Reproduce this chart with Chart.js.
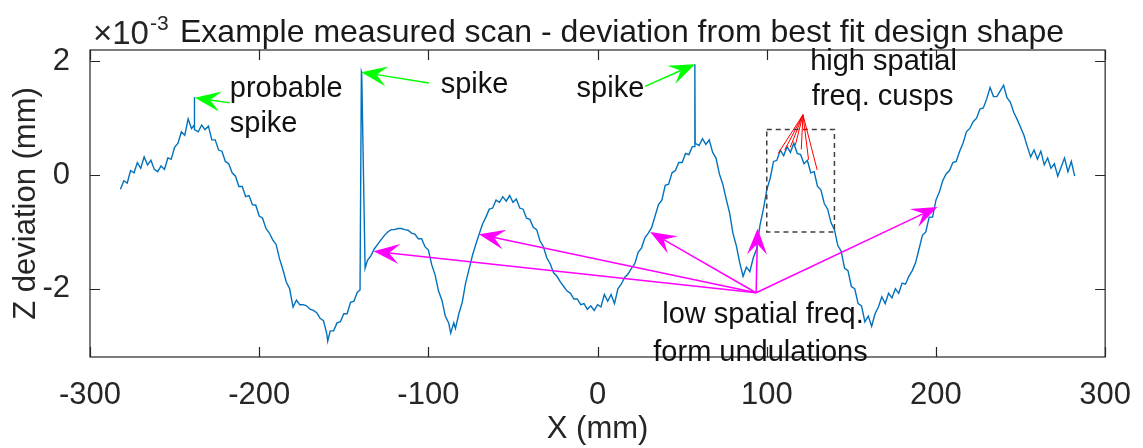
<!DOCTYPE html>
<html>
<head>
<meta charset="utf-8">
<script src="https://cdn.jsdelivr.net/npm/chart.js@4"></script>
<style>
html, body { margin: 0; padding: 0; background: #fff; }
#wrap { width: 1143px; height: 448px; position: relative; }
</style>
</head>
<body>
<div id="wrap"><canvas id="grafico"></canvas></div>
<script>
// X (mm) and Z deviation (x 10^-3 mm)
var xVals = [
  -282, -280, -278, -276, -274, -272, -270, -268, -266, -264,
  -262, -260, -258, -256, -254, -252, -250, -248, -246, -244,
  -242, -240, -238.4, -238.3, -238.2, -236, -234, -232, -230, -228,
  -226, -224, -222, -220, -218, -216, -214, -212, -210, -208,
  -206, -204, -202, -200, -198, -196, -194, -192, -190, -188,
  -186, -184, -182, -180, -178, -176, -174, -172, -170, -168,
  -166, -164, -162, -160, -159.5, -158, -156, -154, -152, -150,
  -148, -146, -144, -142, -140.4, -139.6, -139.4, -137.4, -136, -134,
  -132, -130, -128, -126, -124, -122, -120, -118, -116, -114,
  -112, -110, -108, -106, -104, -102, -100, -98, -96, -94,
  -92, -90, -88, -86.8, -85, -84, -82, -80, -78, -76,
  -74, -72, -70, -68, -66, -64, -62, -60, -58, -56,
  -54, -52, -50, -48, -46, -44, -42, -40, -38, -36,
  -34, -32, -30, -28, -26, -24, -22, -20, -18, -16,
  -14, -12, -10, -8, -6, -4, -2, 0, 2, 4,
  6, 8, 10, 12, 14, 16, 18, 20, 22, 24,
  26, 28, 30, 32, 34, 36, 38, 40, 42, 44,
  46, 48, 50, 52, 54, 56, 57.3, 57.5, 57.7, 60,
  62, 64, 66, 68, 70, 72, 74, 76, 78, 80,
  82, 84, 86, 88, 90, 92, 94, 96, 98, 100,
  102, 104, 106, 108, 110, 112, 114, 116, 118, 120,
  122, 124, 126, 128, 130, 132, 134, 136, 138, 140,
  142, 144, 146, 148, 150, 152, 154, 156, 158, 160,
  162, 164, 166, 168, 170, 172, 174, 176, 178, 180,
  182, 184, 186, 188, 190, 192, 194, 196, 198, 200,
  202, 204, 206, 208, 210, 212, 214, 216, 218, 220,
  222, 224, 226, 228, 230, 232, 234, 236, 238, 240,
  242, 244, 246, 248, 250, 252, 254, 256, 258, 260,
  262, 264, 266, 268, 270, 272, 274, 276, 278, 280,
  282
];
var zVals = [
  -0.25, -0.10, -0.14, 0.08, 0.04, 0.22, 0.12, 0.32, 0.18, 0.26,
  0.10, 0.06, 0.16, 0.10, 0.30, 0.28, 0.49, 0.56, 0.76, 0.70,
  0.99, 0.82, 0.88, 1.37, 0.80, 0.76, 0.88, 0.80, 0.86, 0.62,
  0.62, 0.44, 0.42, 0.24, 0.20, 0.04, -0.02, -0.20, -0.20, -0.38,
  -0.36, -0.52, -0.53, -0.72, -0.76, -0.94, -1.02, -1.14, -1.22, -1.47,
  -1.66, -1.88, -2.00, -2.32, -2.20, -2.28, -2.28, -2.30, -2.36, -2.38,
  -2.42, -2.52, -2.56, -2.80, -2.92, -2.74, -2.74, -2.60, -2.58, -2.44,
  -2.44, -2.24, -2.22, -2.06, -2.02, 1.82, 1.80, -1.64, -1.50, -1.42,
  -1.30, -1.22, -1.14, -1.06, -1.00, -0.96, -0.96, -0.94, -0.94, -0.96,
  -0.97, -1.02, -1.04, -1.12, -1.12, -1.26, -1.32, -1.58, -1.76, -2.04,
  -2.20, -2.48, -2.60, -2.78, -2.60, -2.70, -2.44, -2.24, -1.90, -1.66,
  -1.42, -1.22, -1.04, -0.86, -0.74, -0.60, -0.58, -0.44, -0.48, -0.38,
  -0.46, -0.36, -0.48, -0.42, -0.58, -0.60, -0.76, -0.78, -0.92, -0.96,
  -1.16, -1.26, -1.46, -1.56, -1.72, -1.78, -1.88, -1.96, -2.04, -2.08,
  -2.18, -2.18, -2.28, -2.26, -2.36, -2.30, -2.38, -2.28, -2.32, -2.10,
  -2.22, -2.10, -2.26, -2.00, -1.92, -1.80, -1.74, -1.64, -1.56, -1.36,
  -1.28, -1.10, -1.02, -0.92, -0.72, -0.52, -0.44, -0.18, -0.16, 0.04,
  0.08, 0.22, 0.22, 0.38, 0.36, 0.50, 0.50, 1.95, 0.56, 0.52,
  0.64, 0.54, 0.62, 0.40, 0.30, 0.02, -0.16, -0.42, -0.66, -1.02,
  -1.24, -1.54, -1.78, -1.62, -1.70, -1.46, -1.30, -0.88, -0.60, -0.26,
  -0.06, 0.24, 0.26, 0.44, 0.34, 0.50, 0.40, 0.56, 0.38, 0.36,
  0.20, 0.26, 0.04, 0.06, -0.20, -0.26, -0.50, -0.60, -0.84, -0.96,
  -1.24, -1.34, -1.64, -1.68, -1.96, -2.00, -2.26, -2.30, -2.58, -2.48,
  -2.66, -2.44, -2.32, -2.14, -2.26, -2.08, -2.16, -2.00, -2.08, -1.90,
  -1.92, -1.78, -1.68, -1.54, -1.30, -1.06, -1.00, -0.74, -0.74, -0.44,
  -0.30, -0.10, 0.02, 0.08, 0.22, 0.24, 0.42, 0.56, 0.76, 0.82,
  0.94, 1.00, 1.16, 1.18, 1.34, 1.54, 1.38, 1.38, 1.48, 1.58,
  1.36, 1.28, 1.10, 0.98, 0.84, 0.70, 0.50, 0.32, 0.44, 0.28,
  0.42, 0.18, 0.30, 0.12, 0.20, -0.02, 0.14, 0.30, 0.06, 0.24,
  -0.02
];
var xTicks = [-300, -200, -100, 0, 100, 200, 300];
var yTicks = [-2, 0, 2];

// annotation anchors in data units [x, z]
var spikeArrows = [
  [[-217.4, 1.27], [-238.1, 1.36]],
  [[-99.6, 1.62], [-139.7, 1.81]],
  [[28.1, 1.56], [57.6, 1.95]]
];
var lowFreqFrom = [93.7, -2.07];
var lowFreqTips = [[-132.4, -1.34], [-70.1, -1.04], [31.1, -1.0], [94.6, -0.94], [200.9, -0.56]];
var cuspFrom = [121.4, 1.06];
var cuspTips = [[106.7, 0.38], [110.6, 0.44], [113.9, 0.49], [116.9, 0.53], [120.4, 0.45], [124.7, 0.27], [129.8, 0.09]];
var cuspBox = [100, 140, -1.0, 0.8];
var notas = [
  ['probable', -217.4, 1.38, 'left'],
  ['spike', -217.4, 0.75, 'left'],
  ['spike', -92.7, 1.45, 'left'],
  ['spike', -12.4, 1.38, 'left'],
  ['high spatial', 169, 1.85, 'center'],
  ['freq. cusps', 168.5, 1.24, 'center'],
  ['low spatial freq.', 97.8, -2.61, 'center'],
  ['form undulations', 96.3, -3.27, 'center']
];

var fonte = '"Liberation Sans", Arial, Helvetica, sans-serif';

function seta(ctx, x0, y0, x1, y1, cor) {
    var a = Math.atan2(y1 - y0, x1 - x0);
    var c = Math.cos(a), s = Math.sin(a);
    var len = 26, half = 10;
    ctx.strokeStyle = cor;
    ctx.fillStyle = cor;
    ctx.lineWidth = 1.5;
    ctx.beginPath();
    ctx.moveTo(x0, y0);
    ctx.lineTo(x1 - c * len * 0.6, y1 - s * len * 0.6);
    ctx.stroke();
    ctx.beginPath();
    ctx.moveTo(x1, y1);
    ctx.lineTo(x1 - c * len - s * half, y1 - s * len + c * half);
    ctx.lineTo(x1 - c * len * 0.6, y1 - s * len * 0.6);
    ctx.lineTo(x1 - c * len + s * half, y1 - s * len - c * half);
    ctx.closePath();
    ctx.fill();
}

var anotacoes = {
    id: 'anotacoes',
    afterDatasetsDraw: function(chart) {
        var ctx = chart.ctx, a = chart.chartArea;
        var sx = chart.scales.x, sy = chart.scales.y;
        var px = function(v) { return sx.getPixelForValue(v); };
        var py = function(v) { return sy.getPixelForValue(v); };
        ctx.save();

        // axes box with inward ticks
        ctx.strokeStyle = '#262626';
        ctx.lineWidth = 1.2;
        ctx.strokeRect(a.left, a.top, a.right - a.left, a.bottom - a.top);
        ctx.beginPath();
        xTicks.forEach(function(v) {
            var x = Math.round(px(v)) + 0.5;
            ctx.moveTo(x, a.bottom); ctx.lineTo(x, a.bottom - 10);
            ctx.moveTo(x, a.top); ctx.lineTo(x, a.top + 10);
        });
        yTicks.forEach(function(v) {
            var y = Math.round(py(v)) + 0.5;
            ctx.moveTo(a.left, y); ctx.lineTo(a.left + 10, y);
            ctx.moveTo(a.right, y); ctx.lineTo(a.right - 10, y);
        });
        ctx.stroke();

        // dashed box round the cusps
        ctx.setLineDash([5, 4]);
        ctx.strokeStyle = '#404040';
        ctx.lineWidth = 1.5;
        ctx.strokeRect(px(cuspBox[0]), py(cuspBox[3]), px(cuspBox[1]) - px(cuspBox[0]), py(cuspBox[2]) - py(cuspBox[3]));
        ctx.setLineDash([]);

        // red lines to the cusps
        ctx.strokeStyle = '#ff0000';
        ctx.lineWidth = 1;
        ctx.beginPath();
        cuspTips.forEach(function(t) {
            ctx.moveTo(px(cuspFrom[0]), py(cuspFrom[1]));
            ctx.lineTo(px(t[0]), py(t[1]));
        });
        ctx.stroke();

        // magenta arrows
        lowFreqTips.forEach(function(t) {
            seta(ctx, px(lowFreqFrom[0]), py(lowFreqFrom[1]), px(t[0]), py(t[1]), '#ff00ff');
        });

        // green arrows
        spikeArrows.forEach(function(s) {
            seta(ctx, px(s[0][0]), py(s[0][1]), px(s[1][0]), py(s[1][1]), '#00ff00');
        });

        // texts
        ctx.fillStyle = '#111';
        ctx.textBaseline = 'alphabetic';
        ctx.font = '29px ' + fonte;
        notas.forEach(function(n) {
            ctx.textAlign = n[3];
            ctx.fillText(n[0], px(n[1]), py(n[2]));
        });

        // title and exponent
        ctx.fillStyle = '#1a1a1a';
        ctx.textAlign = 'center';
        ctx.font = '32px ' + fonte;
        ctx.fillText('Example measured scan - deviation from best fit design shape', 622, 42);
        ctx.textAlign = 'left';
        ctx.fillStyle = '#262626';
        ctx.font = '33px ' + fonte;
        ctx.fillText('\u00d710', 93, 44);
        ctx.font = '21px ' + fonte;
        ctx.fillText('-3', 150, 30);

        ctx.restore();
    }
};

var pontos = xVals.map(function(x, i) { return {x: x, y: zVals[i]}; });

var ctx = document.getElementById('grafico').getContext('2d');
var myChart = new Chart(ctx, {
    type: 'line',
    data: {
        datasets: [{
            label: 'scan',
            data: pontos,
            borderColor: '#0072bd',
            borderWidth: 1.4,
            pointRadius: 0,
            tension: 0,
            fill: false
        }]
    },
    options: {
        responsive: true,
        maintainAspectRatio: false,
        animation: false,
        layout: { padding: { left: 0, right: 35, top: 50, bottom: 0 } },
        plugins: {
            legend: { display: false },
            tooltip: { enabled: false }
        },
        scales: {
            x: {
                type: 'linear',
                min: -300,
                max: 300,
                grid: { display: false },
                border: { display: false },
                ticks: {
                    color: '#262626',
                    font: { family: fonte, size: 31 },
                    padding: 12,
                    maxRotation: 0,
                    autoSkip: false
                },
                afterBuildTicks: function(s) { s.ticks = xTicks.map(function(v) { return {value: v}; }); },
                title: {
                    display: true,
                    text: 'X (mm)',
                    color: '#262626',
                    font: { family: fonte, size: 31 },
                    padding: 0
                },
                afterFit: function(s) { s.height = 91; }
            },
            y: {
                type: 'linear',
                min: -3.2,
                max: 2.2,
                grid: { display: false },
                border: { display: false },
                ticks: {
                    color: '#262626',
                    font: { family: fonte, size: 31 },
                    padding: 12
                },
                afterBuildTicks: function(s) { s.ticks = yTicks.map(function(v) { return {value: v}; }); },
                title: {
                    display: true,
                    text: 'Z deviation (mm)',
                    color: '#262626',
                    font: { family: fonte, size: 31 },
                    padding: { top: 8, bottom: 0 }
                },
                afterFit: function(s) { s.width = 90; }
            }
        }
    },
    plugins: [anotacoes]
});
</script>
</body>
</html>
